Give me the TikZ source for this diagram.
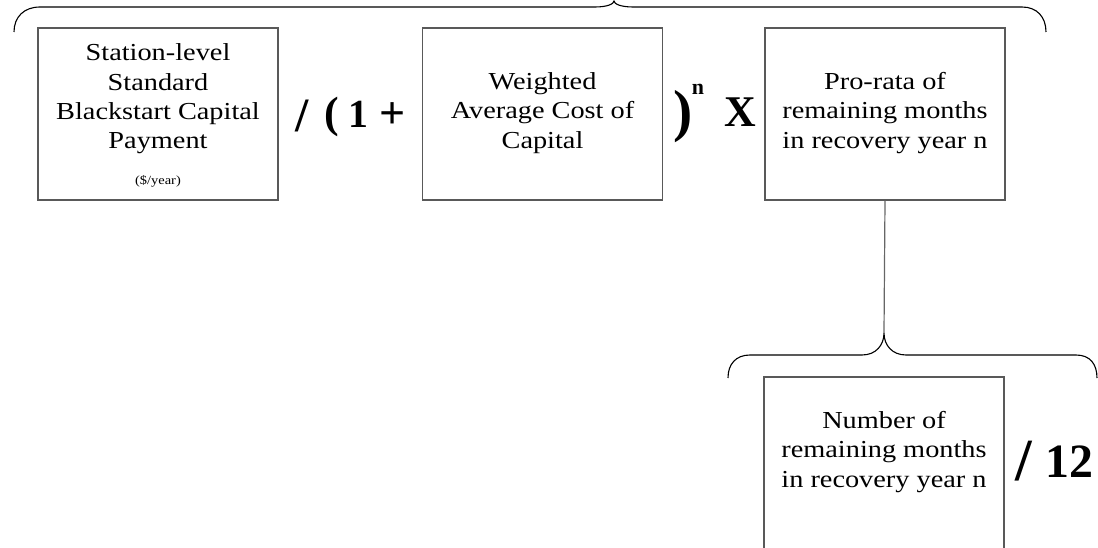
\documentclass[tikz,border=0pt]{standalone}
\usepackage{fontspec}
\setmainfont[FakeStretch=1.16]{Liberation Serif}
\newfontfamily\opfont{Liberation Serif}
\begin{document}
\begin{tikzpicture}[x=1bp,y=-1bp,
  boxstyle/.style={draw=black!65,line width=1.2bp,minimum width=240bp,minimum height=172bp,inner sep=0pt},
  boxtext/.style={align=center,inner sep=0pt,font=\fontsize{24.5}{29.5}\selectfont},
  optext/.style={inner sep=0pt,font=\opfont\bfseries\fontsize{#1}{#1}\selectfont},
  bracestyle/.style={draw=black,line width=1.1bp},
  linkstyle/.style={draw=black!60,line width=1.2bp}]
\useasboundingbox (0,0) rectangle (1098,548);
% boxes
\node[boxstyle] (sbox) at (158,114) {};
\node[boxstyle] (wbox) at (542.5,114) {};
\node[boxstyle] (pbox) at (885,114) {};
\node[boxstyle,minimum height=180bp] (nbox) at (884,467) {};
% box texts
\node[boxtext] (stxt) at (158,99) {Station-level\\Standard\\Blackstart Capital\\Payment};
\node[inner sep=0pt,font=\fontsize{12.5}{14}\selectfont] (sunit) at (158,181) {(\$/year)};
\node[boxtext] (wtxt) at (542.5,113) {Weighted\\Average Cost of\\Capital};
\node[boxtext] (ptxt) at (885,113) {Pro-rata of\\remaining months\\in recovery year n};
\node[boxtext] (ntxt) at (884,452) {Number of\\remaining months\\in recovery year n};
% operators
\node[optext=48] (slash1) at (302,116) {/};
\node[optext=44] (lpar) at (332,117) {(};
\node[optext=40] (one) at (358,114) {1};
\node[optext=46] (plus) at (393,116) {+};
\node[optext=58] (rpar) at (683,117) {)};
\node[optext=22] (expn) at (698,89) {n};
\node[optext=44] (times) at (740,112) {X};
\node[optext=60] (slash2) at (1024,461) {/};
\node[optext=48] (twelve) at (1069,462) {12};
% top brace
\path[bracestyle] (14,32) .. controls (14,17) and (24,7) .. (40,7) -- (595,7)
  .. controls (607,7) and (614,4) .. (614,1) .. controls (614,4) and (621,7) .. (633,7)
  -- (1022,7) .. controls (1037,7) and (1046,17) .. (1046,32);
% lower brace
\coordinate (ltip) at (884,333);
\path[bracestyle] (728,378) .. controls (728,364) and (736,355) .. (750,355) -- (862,355)
  .. controls (876,355) and (884,345) .. (ltip) .. controls (884,345) and (892,355) .. (906,355)
  -- (1076,355) .. controls (1090,355) and (1097,364) .. (1097,378);
% connector
\draw[linkstyle] (pbox.south) -- (ltip);
\end{tikzpicture}
\end{document}
